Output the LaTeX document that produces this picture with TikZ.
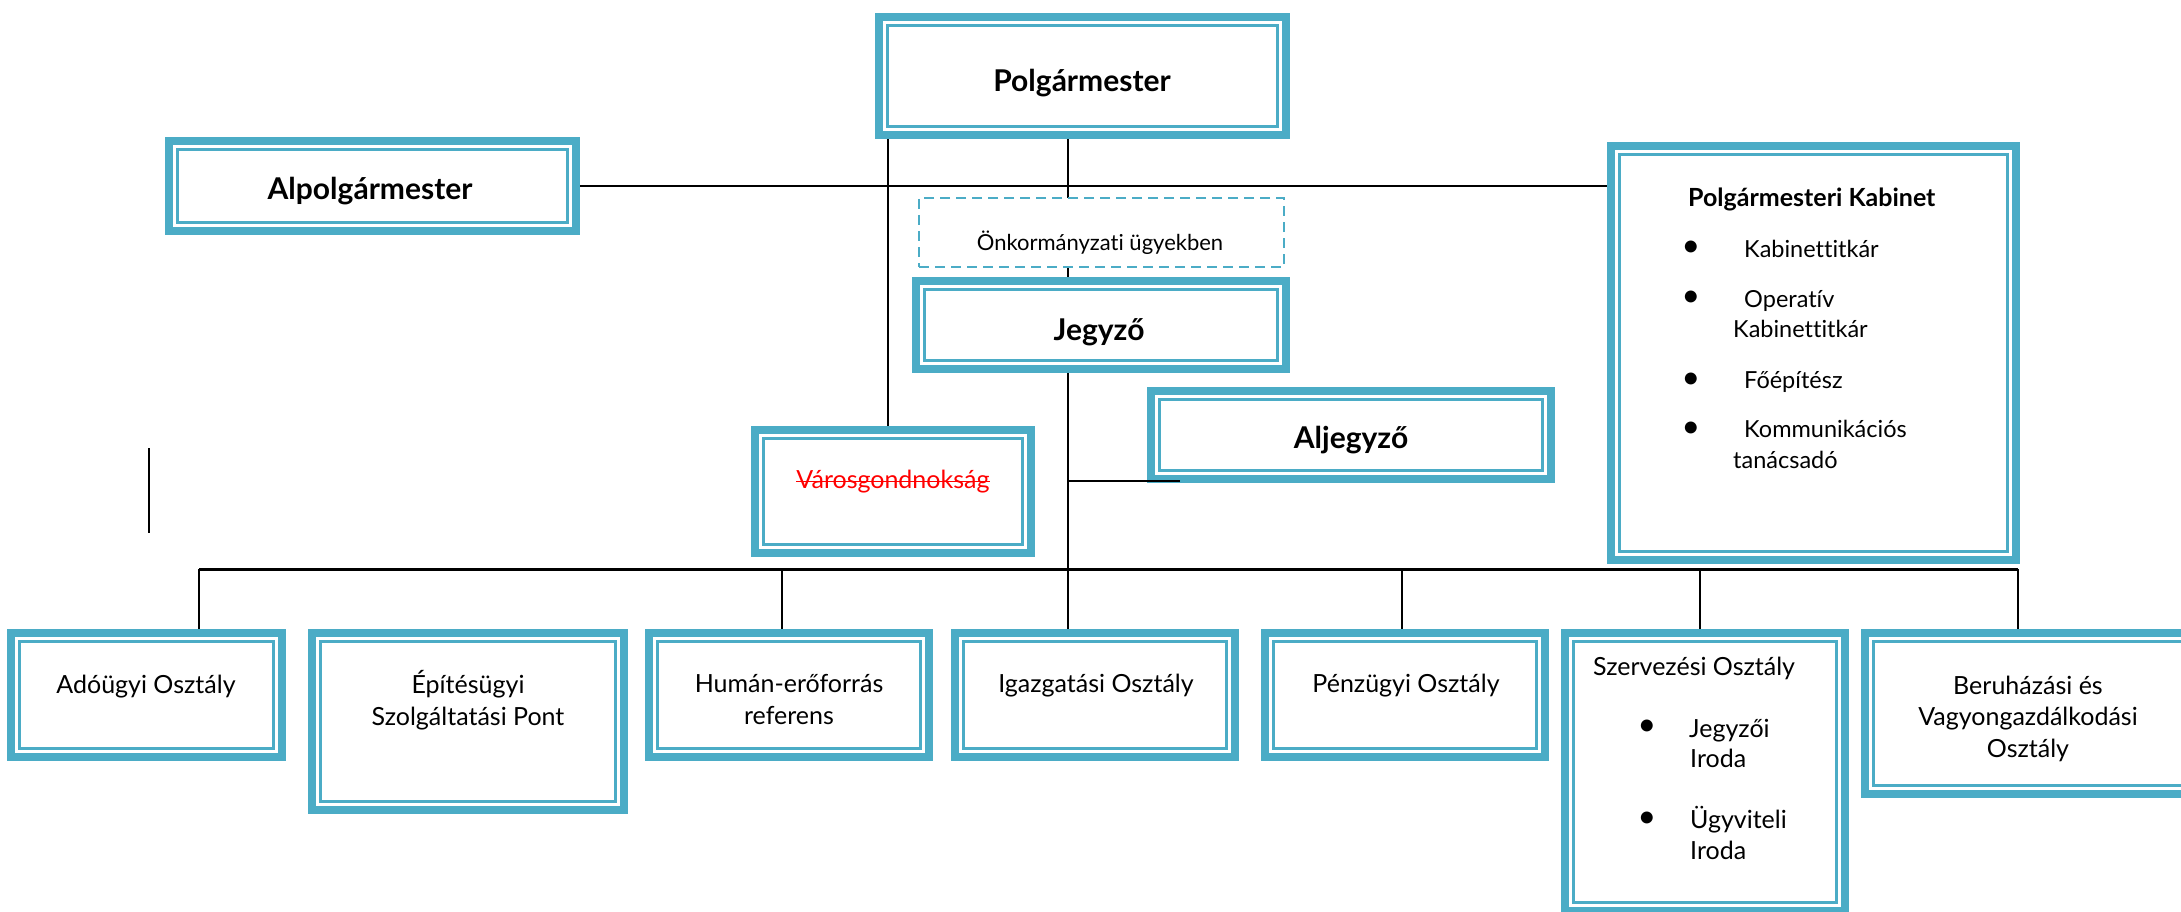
\documentclass[tikz,border=0pt]{standalone}
\usepackage{fontspec}
\setmainfont{Lato}[Ligatures=NoCommon]
\usetikzlibrary{calc}
\definecolor{tealc}{RGB}{75,172,198}
\pgfdeclarelayer{bg}
\pgfsetlayers{bg,main}
\tikzset{
  orgbox/.style 2 args={draw=tealc, line width=8pt, fill=white, inner sep=0pt,
     minimum width={(#1-8)*1pt}, minimum height={(#2-8)*1pt},
     path picture={\draw[tealc,line width=2.5pt]
       ([shift={(8.5pt,-8.5pt)}]path picture bounding box.north west) rectangle
       ([shift={(-8.5pt,8.5pt)}]path picture bounding box.south east);}},
  dashbox/.style 2 args={draw=tealc, line width=2pt, dash pattern=on 10pt off 6pt, fill=white,
     inner sep=0pt, minimum width={(#1-2)*1pt}, minimum height={(#2-2)*1pt}},
  bigT/.style={font=\fontsize{30}{35}\selectfont\bfseries, anchor=base, inner sep=0pt},
  midT/.style={font=\fontsize{22}{27}\selectfont, anchor=base, inner sep=0pt},
  kabT/.style={font=\fontsize{23.5}{30}\selectfont, anchor=base west, inner sep=0pt},
  kabH/.style={font=\fontsize{25}{30}\selectfont\bfseries, anchor=base west, inner sep=0pt},
  botT/.style={font=\fontsize{25}{31.5}\selectfont, anchor=base, inner sep=0pt, align=center},
  botL/.style={font=\fontsize{25}{31.5}\selectfont, anchor=base west, inner sep=0pt},
  bul/.style={font=\fontsize{32}{32}\selectfont, anchor=center, inner sep=0pt},
  conn/.style={draw=black, line width=2pt},
  barline/.style={draw=black, line width=3pt}
}
\begin{document}
\begin{tikzpicture}[x=1pt,y=-1pt]
\useasboundingbox (0,0) rectangle (2181,912);
\clip (0,0) rectangle (2181,912);

% boxes
\node[orgbox={415}{126}] (pm) at (1082.5,76) {};
\node[orgbox={415}{98}] (alp) at (372.5,186) {};
\node[dashbox={367}{71}] (onk) at (1101.5,232.5) {};
\node[orgbox={378}{96}] (jeg) at (1101,325) {};
\node[orgbox={284}{131}] (var) at (893,491.5) {};
\node[orgbox={408}{96}] (alj) at (1351,435) {};
\node[orgbox={413}{422}] (kab) at (1813.5,353) {};
\node[orgbox={279}{132}] (ado) at (146.5,695) {};
\node[orgbox={320}{185}] (epit) at (468,721.5) {};
\node[orgbox={288}{132}] (hum) at (789,695) {};
\node[orgbox={288}{132}] (iga) at (1095,695) {};
\node[orgbox={288}{132}] (pen) at (1405,695) {};
\node[orgbox={288}{286}] (szerv) at (1705,772) {};
\node[orgbox={334}{169}] (ber) at (2028,713.5) {};

% texts
\node[bigT] (pmT) at (1082,92) {Polgármester};
\node[bigT] (alpT) at (370,200) {Alpolgármester};
\node[midT] (onkT) at (1100,251) {Önkormányzati ügyekben};
\node[bigT] (jegT) at (1099,340) {Jegyző};
\node[bigT] (aljT) at (1351,448) {Aljegyző};
\node[midT, text=red, font=\fontsize{25}{30}\selectfont] (varT) at (893,488) {Városgondnokság};
\draw[red, line width=1.6pt] ([yshift=6.5pt]varT.base west) -- ([yshift=6.5pt]varT.base east);

\node[kabH] (kabH) at (1688,207) {Polgármesteri Kabinet};
\node[bul] (kb1) at (1691,249) {•};
\node[kabT] (k1) at (1744,257) {Kabinettitkár};
\node[bul] (kb2) at (1691,299) {•};
\node[kabT] (k2a) at (1744,307) {Operatív};
\node[kabT] (k2b) at (1733,337) {Kabinettitkár};
\node[bul] (kb3) at (1691,381) {•};
\node[kabT] (k3) at (1744,388) {Főépítész};
\node[bul] (kb4) at (1691,430) {•};
\node[kabT] (k4a) at (1744,437) {Kommunikációs};
\node[kabT] (k4b) at (1733,468) {tanácsadó};

\node[botT] (adoT) at (146,693) {Adóügyi Osztály};
\node[botT] (epitT) at (468,725) {Építésügyi\\Szolgáltatási Pont};
\node[botT] (humT) at (789,724) {Humán-erőforrás\\referens};
\node[botT] (igaT) at (1096,692) {Igazgatási Osztály};
\node[botT] (penT) at (1406,692) {Pénzügyi Osztály};
\node[botL] (szT) at (1593,675) {Szervezési Osztály};
\node[bul] (sb1) at (1647,728) {•};
\node[botL] (s1a) at (1689,737) {Jegyzői};
\node[botL] (s1b) at (1690,767) {Iroda};
\node[bul] (sb2) at (1647,820) {•};
\node[botL] (s2a) at (1690,828) {Ügyviteli};
\node[botL] (s2b) at (1690,859) {Iroda};
\node[botT] (berT) at (2028,757) {Beruházási és\\Vagyongazdálkodási\\Osztály};

% coordinates
\coordinate (spine) at (1068,0);
\coordinate (vl) at (888,0);
\coordinate (aljc) at (1180,481);
\coordinate (d1) at (199,569);
\coordinate (d2) at (782,569);
\coordinate (d3) at (1068,569);
\coordinate (d4) at (1402,569);
\coordinate (d5) at (1700,569);
\coordinate (d6) at (2018,569);
\coordinate (st1) at (149,448);
\coordinate (st2) at (149,533);

% Aljegyző connector drawn over the box border
\draw[conn] (spine |- aljc) -- (aljc);

\begin{pgfonlayer}{bg}
\fill[white] (0,0) rectangle (2181,912);
\draw[conn] (spine |- pm.south) -- (spine |- jeg.north);
\draw[conn] (alp.east) -- (alp.east -| kab.west);
\draw[conn] (vl |- pm.south) -- (vl |- var.north);
\draw[conn] (spine |- jeg.south) -- (spine |- iga.north);
\draw[barline] (d1) -- (d6);
\draw[conn] (d1) -- (d1 |- ado.north);
\draw[conn] (d2) -- (d2 |- hum.north);
\draw[conn] (d4) -- (d4 |- pen.north);
\draw[conn] (d5) -- (d5 |- szerv.north);
\draw[conn] (d6) -- (d6 |- ber.north);
\draw[conn] (st1) -- (st2);
\end{pgfonlayer}
\end{tikzpicture}
\end{document}
